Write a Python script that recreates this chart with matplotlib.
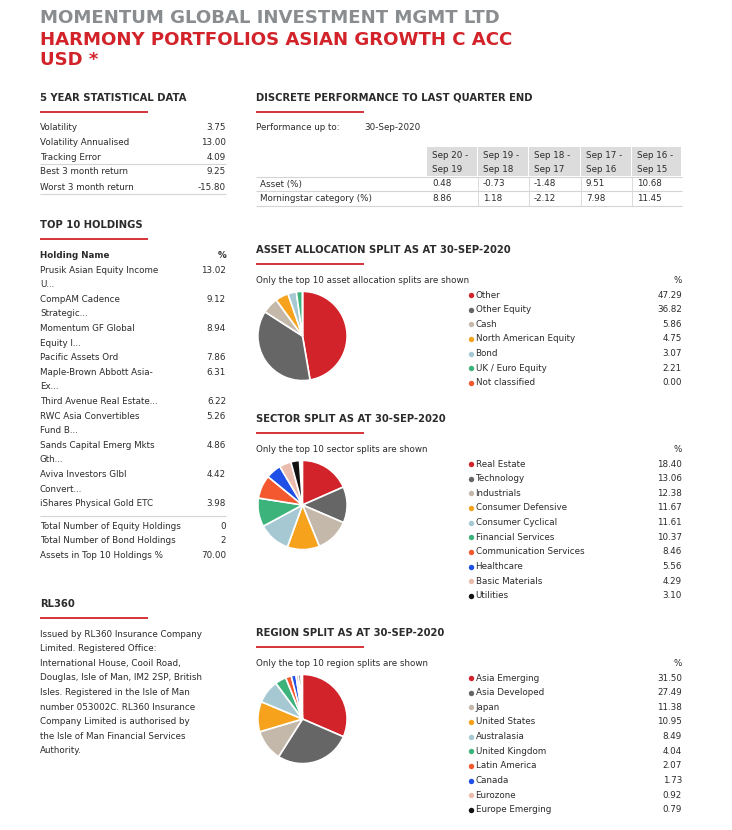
import matplotlib
matplotlib.use("Agg")
import matplotlib.pyplot as plt

W, H = 732, 830
RED = "#d2232a"
GREY_T = "#8a8d8f"
DARK = "#2b2b2b"
LINE = "#d4d4d4"
COLORS = ["#d2232a", "#666666", "#c4b8aa", "#f6a21d", "#a5c8d3",
          "#3db37c", "#f4582f", "#1e4fe6", "#e9bcad", "#111111"]
FONT = "DejaVu Sans"
FS = 6.35
FH = 7.2

# ---- data ----
stat_labels = ["Volatility", "Volatility Annualised", "Tracking Error",
               "Best 3 month return", "Worst 3 month return"]
stat_values = [3.75, 13.00, 4.09, 9.25, -15.80]

perf_periods = ["Sep 20 -\nSep 19", "Sep 19 -\nSep 18", "Sep 18 -\nSep 17",
                "Sep 17 -\nSep 16", "Sep 16 -\nSep 15"]
perf_asset = [0.48, -0.73, -1.48, 9.51, 10.68]
perf_category = [8.86, 1.18, -2.12, 7.98, 11.45]

holding_names = ["Prusik Asian Equity Income\nU...", "CompAM Cadence\nStrategic...",
                 "Momentum GF Global\nEquity I...", "Pacific Assets Ord",
                 "Maple-Brown Abbott Asia-\nEx...", "Third Avenue Real Estate...",
                 "RWC Asia Convertibles\nFund B...", "Sands Capital Emerg Mkts\nGth...",
                 "Aviva Investors Glbl\nConvert...", "iShares Physical Gold ETC"]
holding_values = [13.02, 9.12, 8.94, 7.86, 6.31, 6.22, 5.26, 4.86, 4.42, 3.98]
total_labels = ["Total Number of Equity Holdings", "Total Number of Bond Holdings",
                "Assets in Top 10 Holdings %"]
total_values = ["0", "2", "70.00"]

asset_labels = ["Other", "Other Equity", "Cash", "North American Equity", "Bond",
                "UK / Euro Equity", "Not classified"]
asset_values = [47.29, 36.82, 5.86, 4.75, 3.07, 2.21, 0.00]

sector_labels = ["Real Estate", "Technology", "Industrials", "Consumer Defensive",
                 "Consumer Cyclical", "Financial Services", "Communication Services",
                 "Healthcare", "Basic Materials", "Utilities"]
sector_values = [18.40, 13.06, 12.38, 11.67, 11.61, 10.37, 8.46, 5.56, 4.29, 3.10]

region_labels = ["Asia Emerging", "Asia Developed", "Japan", "United States",
                 "Australasia", "United Kingdom", "Latin America", "Canada",
                 "Eurozone", "Europe Emerging"]
region_values = [31.50, 27.49, 11.38, 10.95, 8.49, 4.04, 2.07, 1.73, 0.92, 0.79]

rl360_text = ["Issued by RL360 Insurance Company", "Limited. Registered Office:",
              "International House, Cooil Road,", "Douglas, Isle of Man, IM2 2SP, British",
              "Isles. Registered in the Isle of Man", "number 053002C. RL360 Insurance",
              "Company Limited is authorised by", "the Isle of Man Financial Services",
              "Authority."]

fig = plt.figure(figsize=(W / 100, H / 100), dpi=100)
ax = fig.add_axes([0, 0, 1, 1])
ax.set_xlim(0, W)
ax.set_ylim(H, 0)
ax.axis("off")


def txt(x, y, s, ha="left", size=FS, weight="normal", color=DARK):
    ax.text(x, y, s, ha=ha, va="center", fontsize=size, fontweight=weight,
            color=color, family=FONT)


def hline(x0, x1, y, color=LINE, lw=0.8):
    ax.plot([x0, x1], [y, y], color=color, lw=lw, solid_capstyle="butt")


def heading(x, y, s):
    txt(x, y, s, size=FH, weight="bold")
    hline(x, x + 108, y + 14, color=RED, lw=1.3)


# ---- title ----
txt(40, 18, "MOMENTUM GLOBAL INVESTMENT MGMT LTD", size=13.1, weight="bold", color=GREY_T)
txt(40, 40, "HARMONY PORTFOLIOS ASIAN GROWTH C ACC", size=13.1, weight="bold", color=RED)
txt(40, 60, "USD *", size=13.1, weight="bold", color=RED)

# ---- 5 year stats ----
heading(40, 98, "5 YEAR STATISTICAL DATA")
ys = [128, 142.5, 157, 172, 187]
for lab, v, y in zip(stat_labels, stat_values, ys):
    txt(40, y, lab)
    txt(226, y, f"{v:.2f}", ha="right")
hline(40, 226, 164.5)
hline(40, 226, 194.5)

# ---- top 10 holdings ----
heading(40, 225, "TOP 10 HOLDINGS")
txt(40, 255, "Holding Name", weight="bold")
txt(226, 255, "%", ha="right", weight="bold")
y = 270
step = 14.6
for name, v in zip(holding_names, holding_values):
    lines = name.split("\n")
    for i, ln in enumerate(lines):
        txt(40, y + i * step, ln)
    txt(226, y, f"{v:.2f}", ha="right")
    y += step * len(lines)
hline(40, 226, 516)
for i, (lab, v) in enumerate(zip(total_labels, total_values)):
    txt(40, 526 + i * step, lab)
    txt(226, 526 + i * step, v, ha="right")

# ---- RL360 ----
heading(40, 604, "RL360")
for i, ln in enumerate(rl360_text):
    txt(40, 634 + i * step, ln)

# ---- discrete performance ----
heading(256, 98, "DISCRETE PERFORMANCE TO LAST QUARTER END")
txt(256, 128, "Performance up to:")
txt(364, 128, "30-Sep-2020")
col_edges = [427, 478, 529, 581, 632, 682]
for i, p in enumerate(perf_periods):
    x0, x1 = col_edges[i], col_edges[i + 1]
    ax.add_patch(plt.Rectangle((x0, 147), x1 - x0 - 1.2, 29.5, facecolor="#dcdcdc",
                               edgecolor="none"))
    top, bot = p.split("\n")
    txt(x0 + 5, 155, top)
    txt(x0 + 5, 169.5, bot)
    txt(x0 + 5, 184, f"{perf_asset[i]:.2f}")
    txt(x0 + 5, 198.5, f"{perf_category[i]:.2f}")
    if i > 0:
        ax.plot([x0, x0], [177, 206], color=LINE, lw=0.6)
txt(260, 184, "Asset (%)")
txt(260, 198.5, "Morningstar category (%)")
hline(256, 682, 176.8)
hline(256, 682, 191.5)
hline(256, 682, 206)


# ---- pies ----
def pie_block(y_head, labels, values, what, y_first):
    heading(256, y_head, what[0])
    txt(256, y_head + 30.5, what[1])
    txt(682, y_head + 30.5, "%", ha="right")
    cy = y_head + 86
    cx, r = 302.5, 45.5
    pax = fig.add_axes([(cx - r) / W, 1 - (cy + r) / H, 2 * r / W, 2 * r / H])
    fr = [v / 100 for v in values]
    pax.pie(fr, colors=COLORS[:len(values)], startangle=90, counterclock=False,
            normalize=False, radius=1,
            wedgeprops=dict(edgecolor="white", linewidth=1.2))
    pax.set_xlim(-1.02, 1.02)
    pax.set_ylim(-1.02, 1.02)
    pax.axis("off")
    for i, (lab, v) in enumerate(zip(labels, values)):
        yy = y_first + i * 14.65
        ax.plot(471, yy, "o", color=COLORS[i], markersize=3.9, markeredgewidth=0)
        txt(475.5, yy, lab)
        txt(682, yy, f"{v:.2f}", ha="right")


pie_block(250, asset_labels, asset_values,
          ("ASSET ALLOCATION SPLIT AS AT 30-SEP-2020",
           "Only the top 10 asset allocation splits are shown"), 295)
pie_block(419, sector_labels, sector_values,
          ("SECTOR SPLIT AS AT 30-SEP-2020", "Only the top 10 sector splits are shown"), 464)
pie_block(633, region_labels, region_values,
          ("REGION SPLIT AS AT 30-SEP-2020", "Only the top 10 region splits are shown"), 678)

fig.savefig("out.png", dpi=100, facecolor="white")
